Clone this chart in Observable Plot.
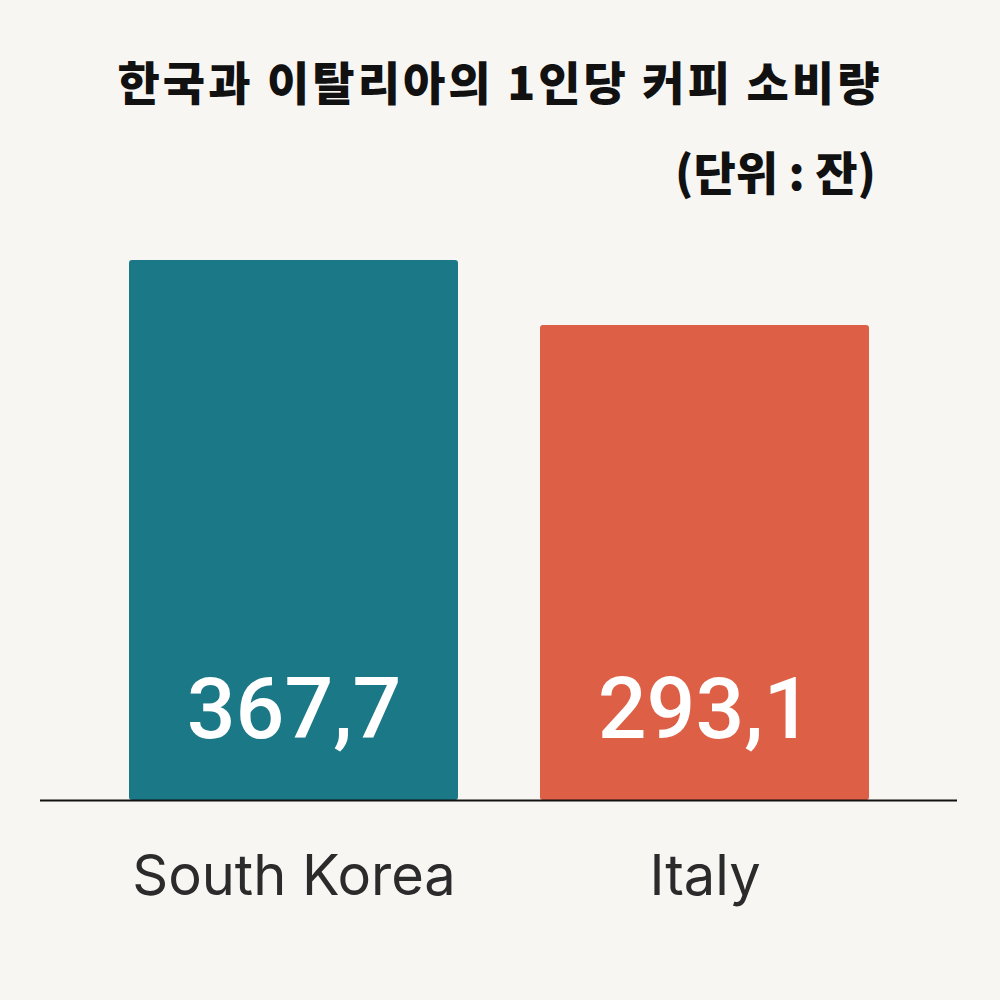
<!DOCTYPE html>
<html>
<head>
<meta charset="utf-8">
<script src="https://cdn.jsdelivr.net/npm/d3@7"></script>
<script src="https://cdn.jsdelivr.net/npm/@observablehq/plot@0.6"></script>
<style>
  html, body { margin: 0; padding: 0; background: #f8f6f3; }
  #wrap { position: relative; width: 1000px; height: 1000px; background: #f8f6f3; overflow: hidden; }
  #title { position: absolute; left: 0; width: 1000px; top: 50px; text-align: center;
    font-family: "Noto Sans CJK KR", sans-serif; font-weight: 900; font-size: 46px; color: #111; letter-spacing: 3px; line-height: 60px; }
  #sub { position: absolute; right: 124px; top: 140px; text-align: right;
    font-family: "Noto Sans CJK KR", sans-serif; font-weight: 900; font-size: 46px; color: #111; line-height: 60px; }
  #chart { position: absolute; left: 0; top: 0; }
</style>
</head>
<body>
<div id="wrap">
  <div id="chart"></div>
  <div id="title">한국과 이탈리아의 1인당 커피 소비량</div>
  <div id="sub">(단위 : 잔)</div>
</div>
<script>
const countries = ["South Korea", "Italy"];
const values = [367.7, 293.1];
const colors = ["#1b7886", "#dd5f45"];
const yBase = -252;

const data = countries.map((c, i) => ({country: c, value: values[i]}));
const fmt = v => v.toFixed(1).replace(".", ",");

const chart = Plot.plot({
  width: 1000,
  height: 1000,
  marginLeft: 40,
  marginRight: 43,
  marginTop: 0,
  marginBottom: 0,
  style: {background: "transparent"},
  x: {domain: countries, range: [128, 869], paddingInner: 0.2, paddingOuter: 0, axis: null},
  y: {domain: [yBase, 367.7], range: [800, 260], axis: null},
  color: {domain: countries, range: colors},
  marks: [
    Plot.barY(data, {x: "country", y1: yBase, y2: "value", fill: "country", rx: 3}),
    Plot.ruleY([yBase], {stroke: "#111", strokeWidth: 2}),
    Plot.text(data, {x: "country", y: yBase, dy: -90, text: d => fmt(d.value), fill: "white",
      fontSize: 86, fontFamily: "Roboto, sans-serif", fontWeight: 500, lineAnchor: "middle", letterSpacing: -3}),
    Plot.text(data, {x: "country", y: yBase, dy: 77, text: "country", fill: "#2b2b2b",
      fontSize: 56, fontFamily: "Inter, sans-serif", fontWeight: 400, lineAnchor: "middle"})
  ]
});
document.getElementById("chart").appendChild(chart);
</script>
</body>
</html>
